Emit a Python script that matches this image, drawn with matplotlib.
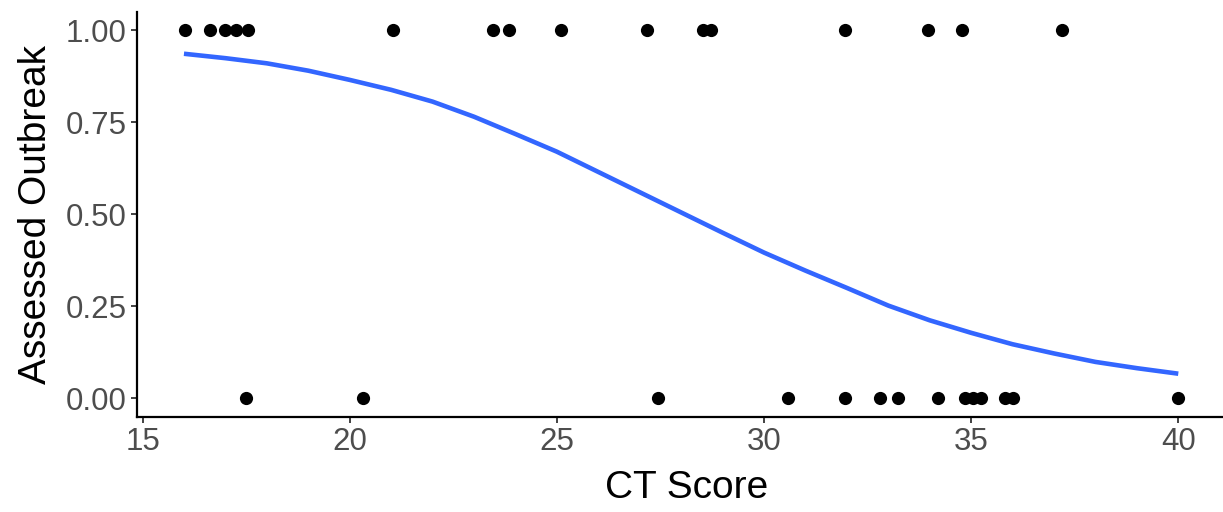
import numpy as np
import matplotlib
matplotlib.use("Agg")
import matplotlib.pyplot as plt

# Data
ct_pos = [16.02, 16.63, 16.99, 17.25, 17.55, 21.05, 23.46, 23.85, 25.09, 27.18,
          28.52, 28.71, 31.95, 33.96, 34.79, 37.20]
ct_neg = [17.49, 20.33, 27.45, 30.58, 31.95, 32.80, 33.24, 34.20, 34.86, 35.05,
          35.25, 35.81, 36.01, 40.00]

# Fitted (logistic smooth) curve
curve_x = [16, 17, 18, 19, 20, 21, 22, 23, 24, 25, 26, 27, 28,
           29, 30, 31, 32, 33, 34, 35, 36, 37, 38, 39, 40]
curve_y = [0.936, 0.924, 0.910, 0.890, 0.865, 0.838, 0.806, 0.765, 0.718,
           0.670, 0.615, 0.560, 0.505, 0.450, 0.396, 0.347, 0.300, 0.252,
           0.212, 0.178, 0.147, 0.122, 0.099, 0.082, 0.067]

x_ticks = [15, 20, 25, 30, 35, 40]
y_ticks = [0.0, 0.25, 0.5, 0.75, 1.0]
y_tick_labels = ["0.00", "0.25", "0.50", "0.75", "1.00"]

x = ct_pos + ct_neg
y = [1.0] * len(ct_pos) + [0.0] * len(ct_neg)

plt.rcParams['font.family'] = ['Liberation Sans', 'DejaVu Sans']

fig = plt.figure(figsize=(12.23, 5.12), dpi=100)
ax = fig.add_axes([0.1118, 0.186, 0.9, 0.791])

ax.plot(curve_x, curve_y, color="#3366FF", lw=3.3, solid_capstyle="butt",
        solid_joinstyle="round", zorder=2)
ax.plot(x, y, 'o', color="black", markersize=9.5, markeredgewidth=0, zorder=3)

ax.set_xlim(14.86, 14.86 + 0.9 * 1223 / 41.43)
ax.set_ylim(-0.05, 1.05)
ax.set_xticks(x_ticks)
ax.set_yticks(y_ticks)
ax.set_yticklabels(y_tick_labels)

for s in ["top", "right"]:
    ax.spines[s].set_visible(False)
for s in ["left", "bottom"]:
    ax.spines[s].set_linewidth(1.6)
    ax.spines[s].set_color("black")

ax.tick_params(axis="both", length=4.5, width=1.3, color="#333333",
               labelsize=22.5, labelcolor="#4d4d4d", pad=3)

ax.set_xlabel("CT Score", fontsize=28, color="black", labelpad=9)
ax.set_ylabel("Assessed Outbreak", fontsize=28, color="black", labelpad=8)

fig.savefig("out.png", dpi=100)
